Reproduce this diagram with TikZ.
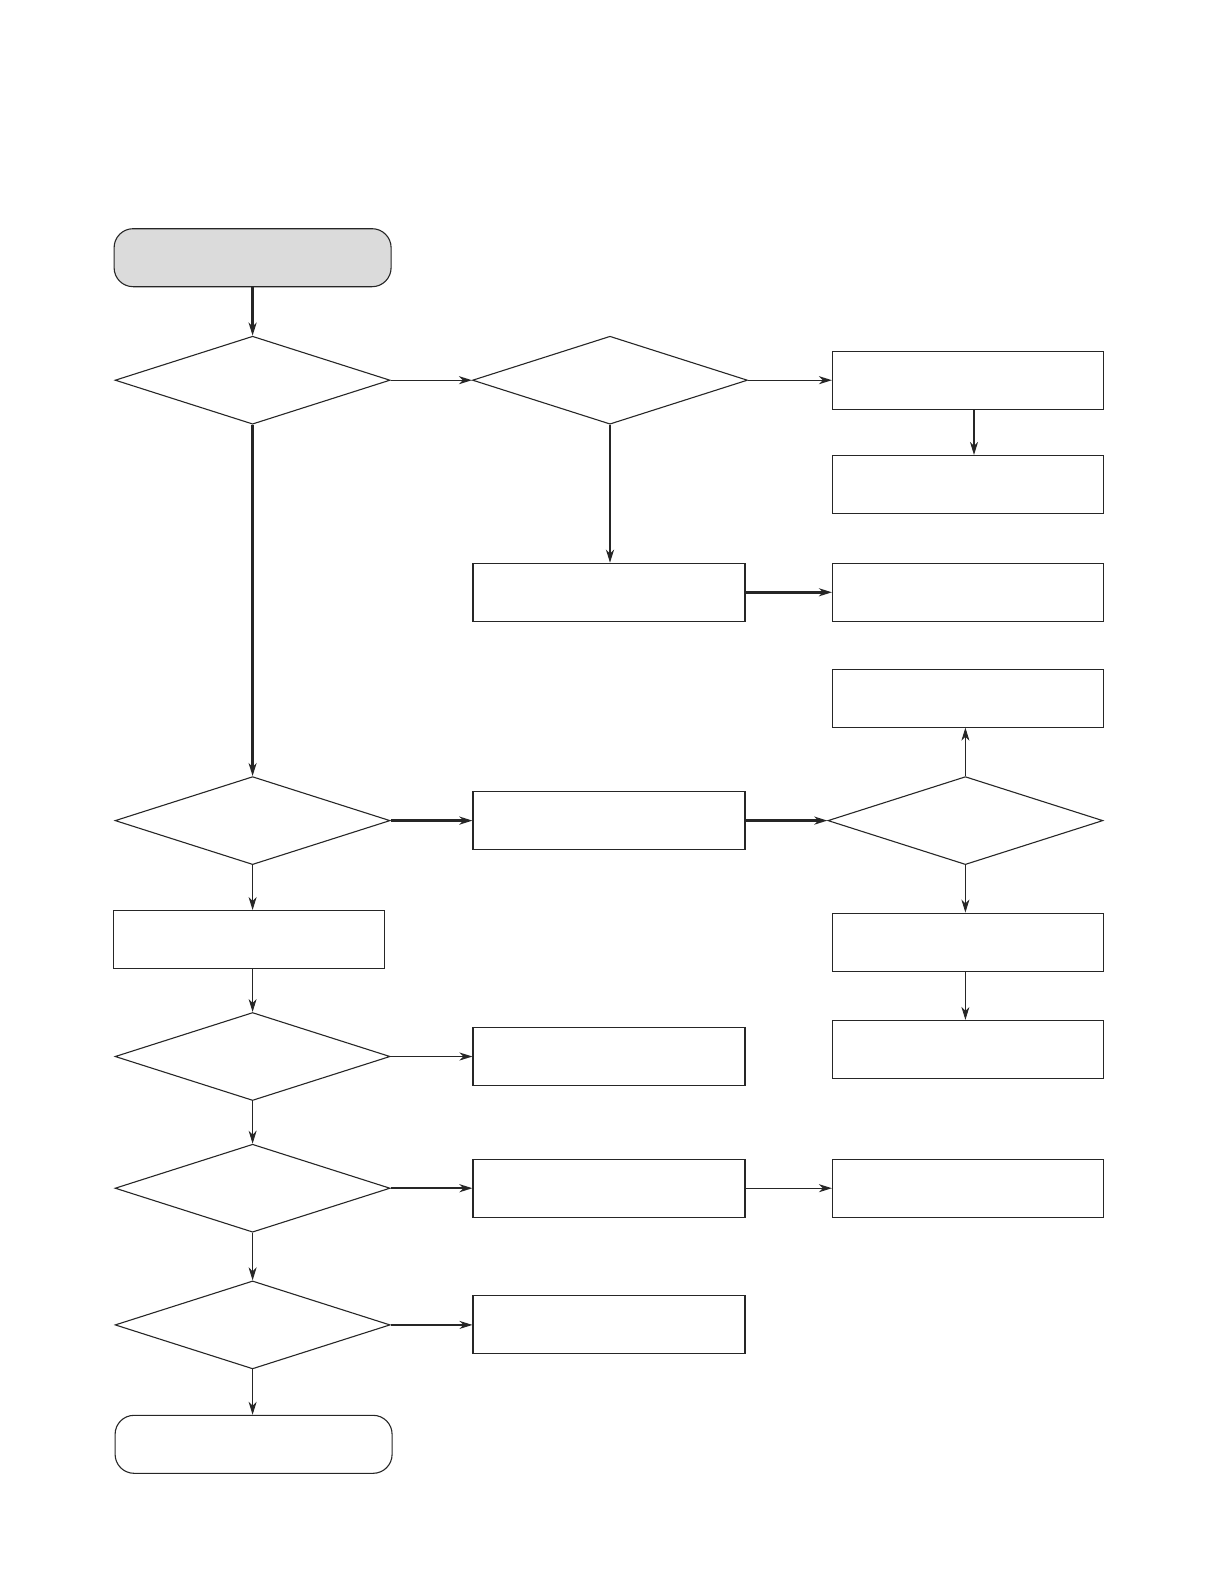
\documentclass[tikz,border=0pt]{standalone}
\usepackage{xcolor}
\usepackage{tikz}
\usetikzlibrary{shapes.geometric,arrows.meta}

\begin{document}
\begin{tikzpicture}[x=1pt, y=-1pt,
    >={Stealth[length=13pt,width=8pt,inset=4pt]},
    every node/.style={inner sep=0pt, line width=1.1pt, draw=black!85},
    term/.style={rounded corners=19pt, minimum width=277pt, minimum height=58pt},
    proc/.style={rectangle, minimum width=272pt, minimum height=58pt},
    test/.style={diamond, minimum width=275pt, minimum height=88pt},
    thin line/.style={->, line width=0.9pt, draw=black!85},
    mid line/.style={->, line width=1.4pt, draw=black!85},
    thick line/.style={->, line width=2.4pt, draw=black!85}]
\useasboundingbox (0,0) rectangle (1219,1587);

% Left column
\node[term, fill=black!14] (start) at (252.6,257.7) {};
\node[test] (chk1) at (252.6,380.2) {};
\node[test] (chk3) at (252.6,820.6) {};
\node[proc, minimum width=271pt] (left1) at (249,939.6) {};
\node[test] (chk4) at (252.6,1056.5) {};
\node[test] (chk5) at (252.6,1188.2) {};
\node[test] (chk6) at (252.6,1324.9) {};
\node[term] (finish) at (253.6,1444.3) {};

% Middle column
\node[test] (chk2) at (610,380.2) {};
\node[proc] (mid1) at (609,592.3) {};
\node[proc] (mid2) at (609,820.6) {};
\node[proc] (mid3) at (609,1056.5) {};
\node[proc] (mid4) at (609,1188.2) {};
\node[proc] (mid5) at (609,1324.9) {};

% Right column
\node[proc, minimum width=271pt] (right1) at (968,380.2) {};
\node[proc, minimum width=271pt] (right2) at (968,484.5) {};
\node[proc, minimum width=271pt] (right3) at (968,592.3) {};
\node[proc, minimum width=271pt] (right4) at (968,698.1) {};
\node[test] (chkr) at (965.4,820.6) {};
\node[proc, minimum width=271pt] (right5) at (968,942.1) {};
\node[proc, minimum width=271pt] (right6) at (968,1049.4) {};
\node[proc, minimum width=271pt] (right7) at (968,1188.2) {};

% Top branch
\draw[thick line] (start) -- (chk1);
\draw[mid line] (chk1.east) -- (chk2.west);
\draw[mid line] (chk2.east) -- (right1.west);
\draw[mid line] ([xshift=6pt]right1.south) -- ([xshift=6pt]right2.north);
\draw[thick line] (chk2.south) -- (mid1.north -| chk2.south);
\draw[thick line] (mid1.east) -- (right3.west);

% Middle branch
\draw[thick line] (chk1.south) -- (chk3.north);
\draw[thick line] (chk3.east) -- (mid2.west);
\draw[thick line] (mid2.east) -- (chkr.west);
\draw[thin line] (chkr.north) -- (right4.south -| chkr.north);
\draw[thin line] (chkr.south) -- (right5.north -| chkr.south);
\draw[thin line] (right5.south -| chkr.south) -- (right6.north -| chkr.south);

% Bottom branch
\draw[thin line] (chk3.south) -- (left1.north -| chk3.south);
\draw[thin line] (left1.south -| chk4.north) -- (chk4.north);
\draw[mid line] (chk4.east) -- (mid3.west);
\draw[thin line] (chk4.south) -- (chk5.north);
\draw[thick line] (chk5.east) -- (mid4.west);
\draw[mid line] (mid4.east) -- (right7.west);
\draw[thin line] (chk5.south) -- (chk6.north);
\draw[mid line] (chk6.east) -- (mid5.west);
\draw[thin line] (chk6.south) -- (finish.north -| chk6.south);
\end{tikzpicture}
\end{document}
